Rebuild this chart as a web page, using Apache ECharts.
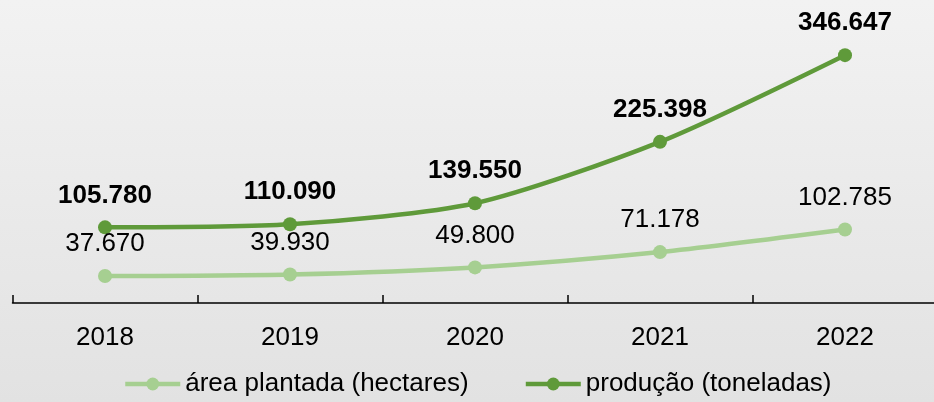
<!DOCTYPE html>
<html lang="pt">
<head>
    <meta charset="UTF-8">
    <title>Área plantada e produção</title>
    <style>
        html, body { margin: 0; padding: 0; overflow: hidden; }
    </style>
</head>
<body>
<!-- a div passa um pouco da janela: a última categoria termina fora da imagem -->
<div id="main" style="width: 938px;height: 402px;"></div>
<script src="https://cdn.jsdelivr.net/npm/echarts@6/dist/echarts.min.js"></script>
<script>
    var anos = ['2018', '2019', '2020', '2021', '2022'];
    var areaPlantada = [37670, 39930, 49800, 71178, 102785];
    var producao = [105780, 110090, 139550, 225398, 346647];
    var nomeArea = 'área plantada (hectares)';
    var nomeProducao = 'produção (toneladas)';

    // 105780 -> "105.780"
    function fmt(p) {
        return String(p.value).replace(/\B(?=(\d{3})+(?!\d))/g, '.');
    }

    var corEscura = '#5f9a3a';
    var corClara = '#a6cf91';
    var fonte = '"Liberation Sans", Arial, sans-serif';

    var myChart = echarts.init(document.getElementById('main'));
    var option = {
        animation: false,
        backgroundColor: {
            type: 'linear', x: 0, y: 0, x2: 0, y2: 1,
            colorStops: [{offset: 0, color: '#f2f2f2'}, {offset: 1, color: '#e2e2e2'}]
        },
        textStyle: { fontFamily: fonte },
        grid: {
            left: 12.5,
            right: 0.5,
            top: 17,
            bottom: 99
        },
        legend: {
            left: 123,
            top: 371,
            padding: 0,
            itemWidth: 55,
            itemHeight: 16,
            itemGap: 55,
            textStyle: { fontSize: 26, color: '#000', fontFamily: fonte },
            data: [
                { name: nomeArea, lineStyle: { width: 4.5, color: corClara }, itemStyle: { color: corClara } },
                { name: nomeProducao, lineStyle: { width: 4.5, color: corEscura }, itemStyle: { color: corEscura } }
            ]
        },
        xAxis: {
            type: 'category',
            data: anos,
            boundaryGap: true,
            axisLine: { show: true, lineStyle: { color: '#000', width: 1.5 } },
            axisTick: { show: true, inside: true, length: 8, lineStyle: { color: '#000', width: 1.5 } },
            axisLabel: { color: '#000', fontSize: 26, margin: 22, fontFamily: fonte }
        },
        yAxis: {
            type: 'value',
            min: 0,
            max: 400000,
            show: false,
            splitLine: { show: false }
        },
        series: [
            {
                name: nomeArea,
                type: 'line',
                data: areaPlantada,
                smooth: 0.25,
                symbol: 'circle',
                symbolSize: 14,
                lineStyle: { color: corClara, width: 4.5 },
                itemStyle: { color: corClara },
                label: {
                    show: true,
                    position: 'top',
                    distance: 12,
                    color: '#000',
                    fontSize: 26,
                    fontFamily: fonte,
                    formatter: fmt
                }
            },
            {
                name: nomeProducao,
                type: 'line',
                data: producao,
                smooth: 0.25,
                symbol: 'circle',
                symbolSize: 14,
                lineStyle: { color: corEscura, width: 4.5 },
                itemStyle: { color: corEscura },
                label: {
                    show: true,
                    position: 'top',
                    distance: 12,
                    color: '#000',
                    fontSize: 26,
                    fontWeight: 'bold',
                    fontFamily: fonte,
                    formatter: fmt
                }
            }
        ]
    };
    myChart.setOption(option);
</script>
</body>
</html>
